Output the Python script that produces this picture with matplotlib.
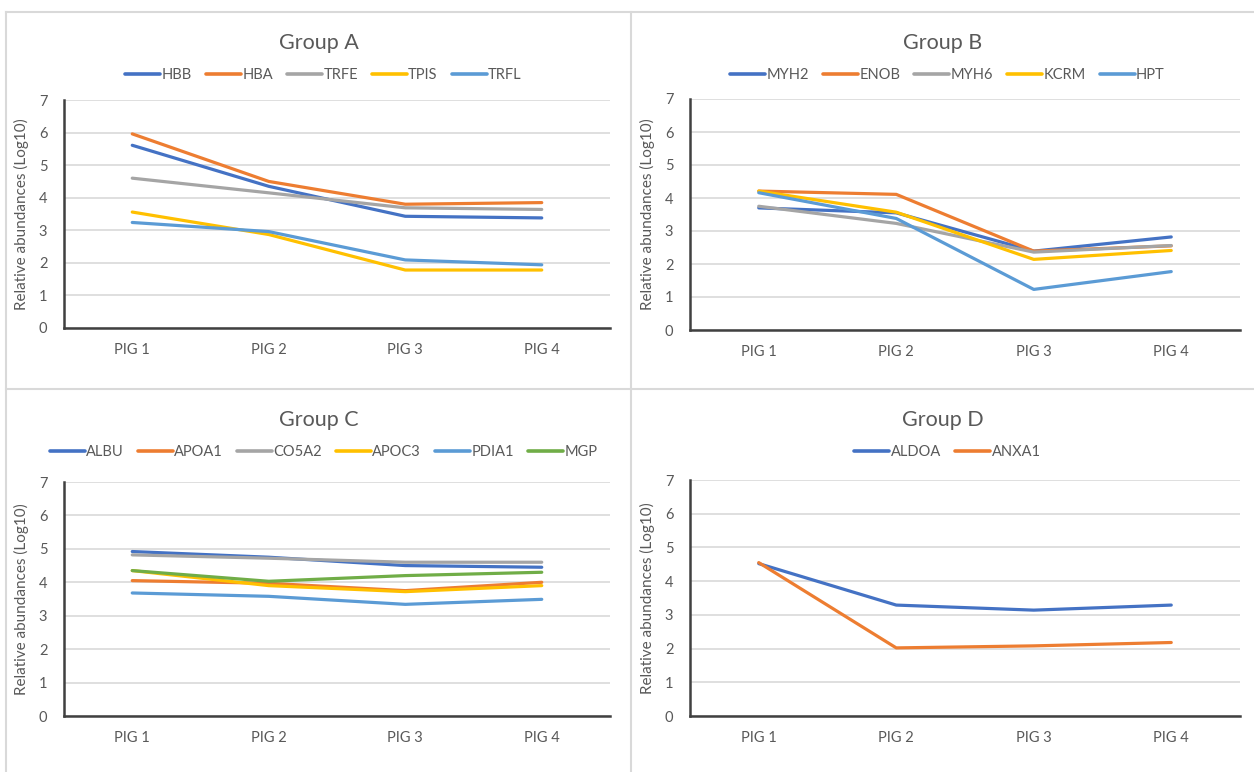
import matplotlib
matplotlib.use("Agg")
import matplotlib.pyplot as plt
from matplotlib.lines import Line2D

plt.rcParams["font.family"] = ["Lato", "DejaVu Sans"]

pigs = ["PIG 1", "PIG 2", "PIG 3", "PIG 4"]

# Group A proteins
hbb = [5.61, 4.35, 3.43, 3.38]
hba = [5.96, 4.50, 3.80, 3.85]
trfe = [4.60, 4.15, 3.69, 3.64]
tpis = [3.56, 2.87, 1.78, 1.78]
trfl = [3.24, 2.96, 2.09, 1.94]

# Group B proteins
myh2 = [3.70, 3.55, 2.39, 2.82]
enob = [4.21, 4.11, 2.39, 2.55]
myh6 = [3.75, 3.23, 2.36, 2.56]
kcrm = [4.21, 3.57, 2.14, 2.41]
hpt = [4.16, 3.38, 1.23, 1.77]

# Group C proteins
albu = [4.92, 4.75, 4.50, 4.45]
apoa1 = [4.05, 3.97, 3.75, 4.00]
co5a2 = [4.82, 4.72, 4.60, 4.60]
apoc3 = [4.35, 3.90, 3.72, 3.90]
pdia1 = [3.68, 3.58, 3.34, 3.49]
mgp = [4.35, 4.03, 4.20, 4.30]

# Group D proteins
aldoa = [4.52, 3.29, 3.14, 3.29]
anxa1 = [4.55, 2.02, 2.08, 2.18]

colors = ["#4472C4", "#ED7D31", "#A5A5A5", "#FFC000", "#5B9BD5", "#70AD47"]
text_col = "#595959"

W, H = 1254, 772
fig = plt.figure(figsize=(W / 100, H / 100), dpi=100)

# (title, names, series, axes box in px: left, top, right, bottom, chart area left/right/top)
panels = [
    ("Group A", ["HBB", "HBA", "TRFE", "TPIS", "TRFL"],
     [hbb, hba, trfe, tpis, trfl], (64, 100, 610, 328), (6, 631, 12)),
    ("Group B", ["MYH2", "ENOB", "MYH6", "KCRM", "HPT"],
     [myh2, enob, myh6, kcrm, hpt], (690, 99, 1240, 330), (631, 1254, 12)),
    ("Group C", ["ALBU", "APOA1", "CO5A2", "APOC3", "PDIA1", "MGP"],
     [albu, apoa1, co5a2, apoc3, pdia1, mgp], (64, 482, 610, 716), (6, 631, 389)),
    ("Group D", ["ALDOA", "ANXA1"],
     [aldoa, anxa1], (690, 480, 1240, 716), (631, 1254, 389)),
]

for title, names, series, box, area in panels:
    l, t, r, b = box
    ax = fig.add_axes([l / W, 1 - b / H, (r - l) / W, (b - t) / H])
    for i, (name, vals) in enumerate(zip(names, series)):
        ax.plot(range(len(pigs)), vals, color=colors[i], lw=2.3, label=name,
                solid_capstyle="round", zorder=3)
    ax.set_xlim(-0.5, 3.5)
    ax.set_ylim(0, 7)
    ax.set_yticks(range(8))
    ax.set_xticks(range(len(pigs)))
    ax.set_xticklabels(pigs)
    ax.tick_params(length=0, labelsize=10.5, labelcolor=text_col)
    ax.tick_params(axis="y", pad=12)
    ax.tick_params(axis="x", pad=11)
    ax.grid(axis="y", color="#D9D9D9", lw=1.2)
    ax.set_axisbelow(True)
    for side in ["top", "right"]:
        ax.spines[side].set_visible(False)
    for side in ["left", "bottom"]:
        ax.spines[side].set_color("#404040")
        ax.spines[side].set_linewidth(1.8)
    ax.set_ylabel("Relative abundances (Log10)", fontsize=11, color=text_col, labelpad=7)

    cx = (area[0] + area[1]) / 2 / W
    fig.text(cx, 1 - (area[2] + 31) / H, title, ha="center", va="center",
             fontsize=15.5, color=text_col)
    leg = ax.legend(loc="center", bbox_to_anchor=(cx + 5 / W, 1 - (area[2] + 63) / H),
                    bbox_transform=fig.transFigure, ncol=len(names), frameon=False,
                    fontsize=10.5, handlelength=2.4, handletextpad=0.1,
                    columnspacing=0.95, labelcolor=text_col)
    for h in leg.get_lines():
        h.set_linewidth(2.6)

# chart area borders
border = dict(color="#D9D9D9", lw=1.5)
fig.add_artist(Line2D([6 / W, 1], [1 - 12 / H] * 2, **border))
fig.add_artist(Line2D([6 / W] * 2, [0, 1 - 12 / H], **border))
fig.add_artist(Line2D([631 / W] * 2, [0, 1 - 12 / H], **border))
fig.add_artist(Line2D([6 / W, 1], [1 - 389 / H] * 2, **border))

fig.savefig("out.png", dpi=100)
